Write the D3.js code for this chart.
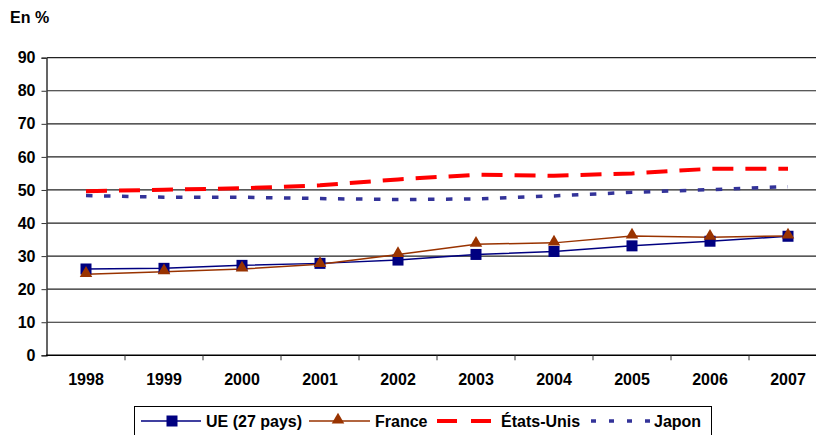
<!DOCTYPE html>
<html>
<head>
<meta charset="utf-8">
<script src="https://cdn.jsdelivr.net/npm/d3@7"></script>
<style>
  body { margin: 0; background: #fff; }
  svg { display: block; font-family: "Liberation Sans", Arial, sans-serif; font-weight: bold; }
</style>
</head>
<body>
<svg id="chart" width="816" height="435"></svg>
<script>
// data
const years = ["1998","1999","2000","2001","2002","2003","2004","2005","2006","2007"];
const ue = [26.1, 26.3, 27.2, 27.8, 28.8, 30.5, 31.4, 33.1, 34.5, 36.0];
const france = [24.5, 25.3, 26.1, 27.5, 30.5, 33.6, 34.0, 36.1, 35.7, 36.1];
const etatsUnis = [49.6, 50.1, 50.5, 51.4, 53.2, 54.6, 54.3, 55.0, 56.4, 56.4];
const japon = [48.3, 47.8, 47.8, 47.4, 47.1, 47.3, 48.2, 49.3, 50.1, 51.0];
const yTicks = [0, 10, 20, 30, 40, 50, 60, 70, 80, 90];

const fontSize = "16px";
const svg = d3.select("#chart");

// scales
const x = d3.scaleBand().domain(years).range([47, 827]).padding(0);
const y = d3.scaleLinear().domain([0, 90]).range([355.3, 57.7]);
const cx = d => x(d) + x.bandwidth() / 2;

// gridlines
svg.append("g").selectAll("line")
  .data(yTicks.filter(t => t > 0))
  .join("line")
  .attr("x1", 47).attr("x2", 816)
  .attr("y1", d => y(d)).attr("y2", d => y(d))
  .attr("stroke", "#222").attr("stroke-width", 1.2);

// y axis
const yG = svg.append("g").attr("transform", "translate(46.5,0)")
  .call(d3.axisLeft(y).tickValues(yTicks).tickSize(5).tickPadding(6));
yG.select(".domain").attr("stroke", "#333").attr("stroke-width", 1.5);
yG.selectAll(".tick line").attr("stroke", "#333");
yG.selectAll("text").attr("font-size", fontSize).attr("font-weight", "bold").attr("fill", "#000")
  .attr("font-family", "'Liberation Sans', Arial, sans-serif");

// x axis
const xG = svg.append("g").attr("transform", `translate(0,${y(0)})`)
  .call(d3.axisBottom(x).tickSize(0).tickPadding(18));
xG.select(".domain").attr("d", `M46,0H816`).attr("stroke", "#000").attr("stroke-width", 1.5);
xG.selectAll("text").attr("font-size", fontSize).attr("font-weight", "bold").attr("fill", "#000")
  .attr("font-family", "'Liberation Sans', Arial, sans-serif");
// tick marks at band boundaries
xG.append("g").selectAll("line")
  .data(years.slice(1))
  .join("line")
  .attr("x1", d => x(d)).attr("x2", d => x(d))
  .attr("y1", 0).attr("y2", 5)
  .attr("stroke", "#333");

// "En %"
svg.append("text").attr("x", 10).attr("y", 23)
  .attr("font-size", fontSize).text("En %");

// series
const line = d3.line().x((d, i) => cx(years[i])).y(d => y(d));

svg.append("path").datum(etatsUnis).attr("d", line)
  .attr("fill", "none").attr("stroke", "#ff0000").attr("stroke-width", 4)
  .attr("stroke-dasharray", "21 12");
svg.append("path").datum(japon).attr("d", line)
  .attr("fill", "none").attr("stroke", "#333399").attr("stroke-width", 3.5)
  .attr("stroke-dasharray", "6.5 11.5");
svg.append("path").datum(ue).attr("d", line)
  .attr("fill", "none").attr("stroke", "#000080").attr("stroke-width", 1.5);
svg.append("path").datum(france).attr("d", line)
  .attr("fill", "none").attr("stroke", "#993300").attr("stroke-width", 1.5);

const sq = 11;
svg.append("g").selectAll("rect").data(ue).join("rect")
  .attr("x", (d, i) => cx(years[i]) - sq / 2)
  .attr("y", d => y(d) - sq / 2)
  .attr("width", sq).attr("height", sq)
  .attr("fill", "#000080");

const tri = d3.symbol().type(d3.symbolTriangle).size(68);
svg.append("g").selectAll("path").data(france).join("path")
  .attr("d", tri)
  .attr("transform", (d, i) => `translate(${cx(years[i])},${y(d) - 1})`)
  .attr("fill", "#993300");

// legend
const lg = svg.append("g");
lg.append("rect").attr("x", 134.5).attr("y", 406.5).attr("width", 577).attr("height", 40)
  .attr("fill", "#fff").attr("stroke", "#000");
const ly = 421;
lg.append("line").attr("x1", 141).attr("x2", 201).attr("y1", ly).attr("y2", ly)
  .attr("stroke", "#000080").attr("stroke-width", 1.5);
lg.append("rect").attr("x", 172 - sq / 2).attr("y", ly - sq / 2).attr("width", sq).attr("height", sq)
  .attr("fill", "#000080");
lg.append("text").attr("x", 206).attr("y", ly + 6).attr("font-size", fontSize).text("UE (27 pays)");

lg.append("line").attr("x1", 309).attr("x2", 370).attr("y1", ly).attr("y2", ly)
  .attr("stroke", "#993300").attr("stroke-width", 1.5);
lg.append("path").attr("d", tri).attr("transform", `translate(338,${ly - 1})`).attr("fill", "#993300");
lg.append("text").attr("x", 375).attr("y", ly + 6).attr("font-size", fontSize).text("France");

lg.append("line").attr("x1", 437).attr("x2", 491).attr("y1", ly).attr("y2", ly)
  .attr("stroke", "#ff0000").attr("stroke-width", 4).attr("stroke-dasharray", "20 14");
lg.append("text").attr("x", 501).attr("y", ly + 6).attr("font-size", fontSize).text("États-Unis");

lg.append("line").attr("x1", 591).attr("x2", 651).attr("y1", ly).attr("y2", ly)
  .attr("stroke", "#333399").attr("stroke-width", 3.5).attr("stroke-dasharray", "5 13");
lg.append("text").attr("x", 654).attr("y", ly + 6).attr("font-size", fontSize).text("Japon");
</script>
</body>
</html>
